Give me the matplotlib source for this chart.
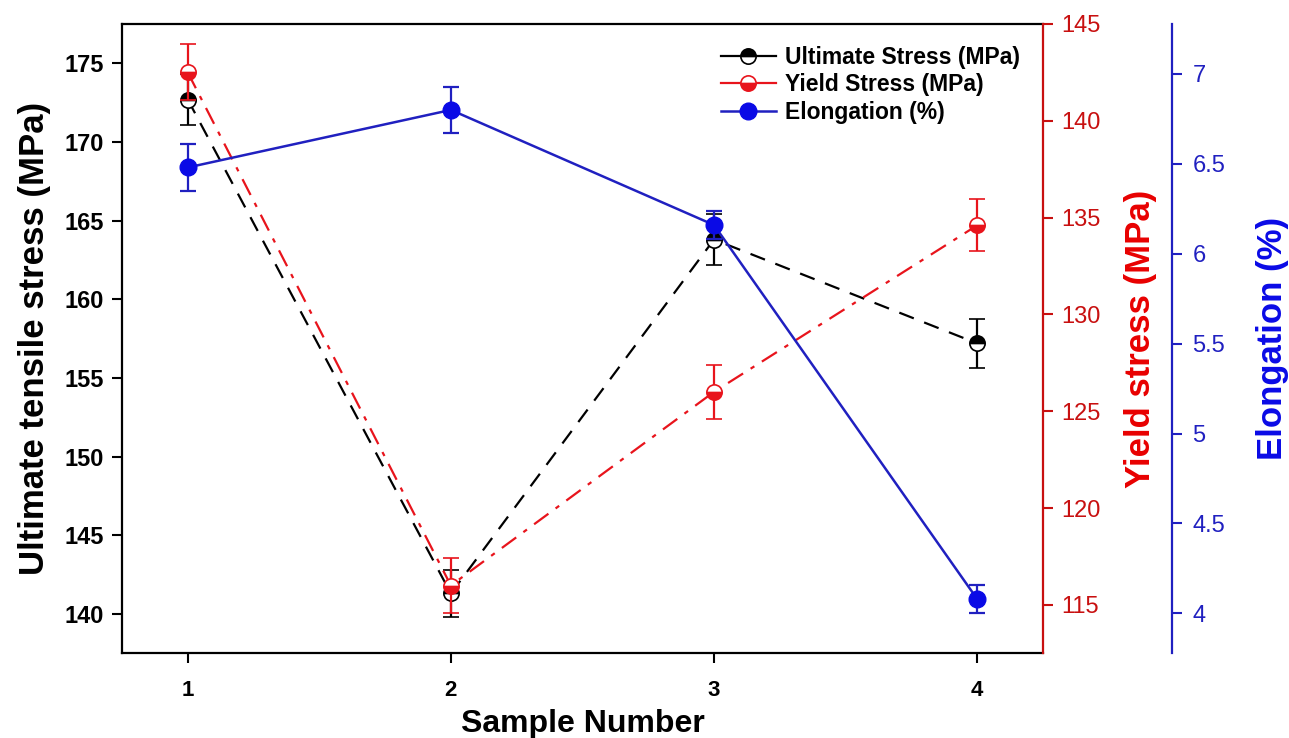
import matplotlib
matplotlib.use('Agg')
import matplotlib.pyplot as plt
from matplotlib.lines import Line2D

plt.rcParams['font.family'] = ['Liberation Sans', 'DejaVu Sans']

# data
samples = [1, 2, 3, 4]
uts = [172.7, 141.3, 163.8, 157.2]
uts_err = [1.65, 1.5, 1.6, 1.55]
ys = [142.5, 116.0, 126.0, 134.6]
ys_err = [1.45, 1.4, 1.4, 1.35]
elong = [6.48, 6.80, 6.16, 4.08]
elong_err = [0.13, 0.13, 0.08, 0.08]

RED = '#e8141c'
RED_AX = '#c81010'
BLUE = '#0a0ae6'
BLUE_AX = '#2020c0'

fig = plt.figure(figsize=(12.89, 7.38), dpi=100)
ax = fig.add_axes([0.0946, 0.1148, 0.7145, 0.8527])
ax2 = ax.twinx()
ax3 = ax.twinx()

# ultimate stress (black dashed, half-filled top)
ax.errorbar(samples, uts, yerr=uts_err, color='black', ls=(0, (7, 5)), lw=1.6,
            marker='o', ms=11, fillstyle='top', mfc='black', mfcalt='white',
            mec='black', mew=1.2, capsize=6, elinewidth=1.6, capthick=1.6)
# yield stress (red dash-dot, half-filled bottom)
ax2.errorbar(samples, ys, yerr=ys_err, color=RED, ls=(0, (8, 4, 2, 4)), lw=1.6,
             marker='o', ms=11, fillstyle='bottom', mfc=RED, mfcalt='white',
             mec=RED, mew=1.2, capsize=6, elinewidth=1.6, capthick=1.6)
# elongation (blue solid, filled)
ax3.errorbar(samples, elong, yerr=elong_err, color=BLUE_AX, ls='-', lw=1.8,
             marker='o', ms=12, mfc=BLUE, mec=BLUE, capsize=6,
             elinewidth=1.6, capthick=1.6)

ax.set_xlim(0.75, 4.25)
ax.set_ylim(137.5, 177.5)
ax2.set_ylim(112.5, 145)
ax3.set_ylim(3.778, 7.278)

ax.set_xticks(samples)
ax.set_yticks([140, 145, 150, 155, 160, 165, 170, 175])
ax2.set_yticks([115, 120, 125, 130, 135, 140, 145])
ax3.set_yticks([4, 4.5, 5, 5.5, 6, 6.5, 7])
ax3.set_yticklabels(['4', '4.5', '5', '5.5', '6', '6.5', '7'])

for s in ['left', 'bottom', 'top']:
    ax.spines[s].set_linewidth(1.6)
ax.spines['right'].set_visible(False)
ax2.spines['right'].set_color(RED_AX)
ax2.spines['right'].set_linewidth(1.6)
for s in ['left', 'top', 'bottom']:
    ax2.spines[s].set_visible(False)
    ax3.spines[s].set_visible(False)
ax3.spines['right'].set_position(('axes', 1.1397))
ax3.spines['right'].set_color(BLUE_AX)
ax3.spines['right'].set_linewidth(1.6)

ax.tick_params(axis='y', direction='out', length=7, width=1.5, labelsize=17, pad=6)
ax.tick_params(axis='x', direction='out', length=7, width=1.5, labelsize=16, pad=12)
for lab in ax.get_yticklabels() + ax.get_xticklabels():
    lab.set_fontweight('bold')
ax2.tick_params(axis='y', direction='out', length=7, width=1.5, labelsize=17,
                colors=RED_AX, pad=6)
ax3.tick_params(axis='y', direction='out', length=7, width=1.5, labelsize=17,
                colors=BLUE_AX, pad=8)

ax.set_ylabel('Ultimate tensile stress (MPa)', fontsize=25, fontweight='bold', labelpad=10)
ax.set_xlabel('Sample Number', fontsize=23, fontweight='bold', labelpad=6)
ax2.set_ylabel('Yield stress (MPa)', fontsize=25, fontweight='bold', color='#e80000',
               labelpad=17)
ax3.set_ylabel('Elongation (%)', fontsize=25, fontweight='bold', color='#0a0ae6',
               labelpad=22)

handles = [
    Line2D([], [], color='black', lw=1.6, marker='o', ms=11, fillstyle='top',
           mfc='black', mfcalt='white', mec='black', mew=1.2),
    Line2D([], [], color=RED, lw=1.6, marker='o', ms=11, fillstyle='bottom',
           mfc=RED, mfcalt='white', mec=RED, mew=1.2),
    Line2D([], [], color=BLUE_AX, lw=1.8, marker='o', ms=12, mfc=BLUE, mec=BLUE),
]
ax3.legend(handles, ['Ultimate Stress (MPa)', 'Yield Stress (MPa)', 'Elongation (%)'],
           loc='upper right', bbox_to_anchor=(0.985, 0.98), borderaxespad=0,
           frameon=False, prop={'size': 16.5, 'weight': 'bold'}, handlelength=2.4,
           handletextpad=0.4, labelspacing=0.2)

fig.savefig('out.png', dpi=100)
